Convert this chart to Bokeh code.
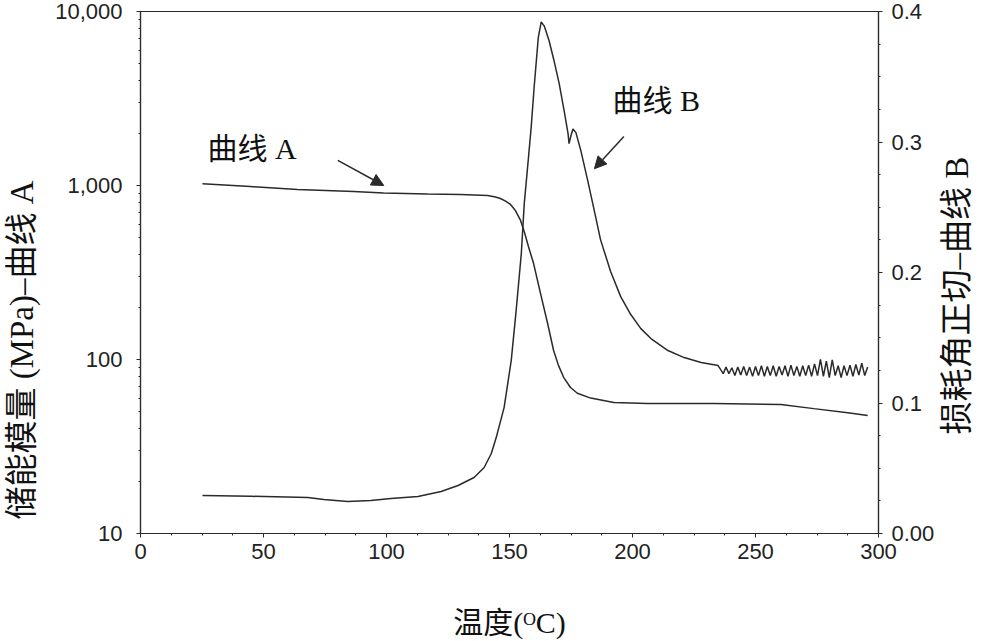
import math
from bokeh.plotting import figure
from bokeh.models import (LinearAxis, Range1d, FixedTicker, NumeralTickFormatter, LinearScale,
                          CustomJSTickFormatter, Label, Arrow, NormalHead)
from bokeh.embed import file_html
from bokeh.resources import INLINE

# ---- data ----
temp_a = [25.2, 44.7, 63.8, 86.6, 98.8, 116.7, 130.1, 141.1, 144.3, 146.3, 148.4,
          150.4, 152.4, 154.5, 156.1, 157.7, 159.8, 162.6, 165.5, 167.9, 169.9,
          172.0, 174.8, 177.6, 183.0, 192.4, 206.2, 233.0, 260.3, 273.7, 287.5, 295.6]
modulus_a = [1023, 986, 948, 924, 906, 894, 888, 877, 859, 842, 814,
             778, 718, 630, 537, 446, 356, 240, 161, 113, 92.5,
             79, 69, 64, 60, 56.6, 55.8, 55.8, 55.1, 52.2, 49.5, 47.6]

temp_b = [25.2, 45.0, 68.0, 74.5, 84.3, 93.6, 101.8, 112.8, 122.2, 129.1, 135.6,
          139.7, 142.6, 144.6, 147.8, 150.7, 152.7, 154.8, 156.0, 157.6, 158.8,
          160.0, 161.7, 162.9, 164.1, 166.1, 168.1, 170.2, 172.2, 173.8, 174.2,
          175.0, 175.8, 177.0, 179.0, 181.8, 184.2, 187.0, 191.1, 195.2, 199.3,
          203.4, 207.5, 214.4, 221.0, 227.9, 234.8, 236.9,
          238.0, 239.2, 240.4, 241.6, 242.8, 244.0, 245.2, 246.4, 247.6, 248.8,
          250.0, 251.2, 252.4, 253.6, 254.8, 256.0, 257.2, 258.4, 259.6, 260.8,
          262.0, 263.2, 264.4, 265.6, 266.8, 268.0, 269.2, 270.4, 271.6, 272.8,
          274.0, 275.2, 276.4, 277.6, 278.8, 280.0, 281.2, 282.4, 283.6, 284.8,
          286.0, 287.2, 288.4, 289.6, 290.8, 292.0, 293.2, 294.4, 295.6]
tan_b = [0.0291, 0.0285, 0.0276, 0.0260, 0.0245, 0.0253, 0.0268, 0.0283, 0.0322, 0.0368, 0.0429,
         0.0506, 0.0613, 0.0735, 0.0965, 0.1325, 0.1708, 0.2145, 0.2528, 0.2857, 0.3110,
         0.3416, 0.3800, 0.3920, 0.3890, 0.3776, 0.3623, 0.3447, 0.3240, 0.3064, 0.2987,
         0.3050, 0.3100, 0.3072, 0.2934, 0.2704, 0.2497, 0.2252, 0.2007, 0.1815, 0.1678,
         0.1570, 0.1494, 0.1402, 0.1348, 0.1310, 0.1287, 0.1225,
         0.1275, 0.1225, 0.1270, 0.1210, 0.1275, 0.1215, 0.1280, 0.1210, 0.1275, 0.1205,
         0.1280, 0.1210, 0.1285, 0.1205, 0.1280, 0.1210, 0.1285, 0.1205, 0.1280, 0.1215,
         0.1285, 0.1205, 0.1290, 0.1210, 0.1280, 0.1205, 0.1285, 0.1210, 0.1290, 0.1205,
         0.1300, 0.1210, 0.1335, 0.1205, 0.1320, 0.1195, 0.1330, 0.1210, 0.1285, 0.1195,
         0.1285, 0.1210, 0.1290, 0.1205, 0.1295, 0.1215, 0.1305, 0.1210, 0.1275]

x_ticks = [0, 50, 100, 150, 200, 250, 300]
x_minor = [12.5, 25, 37.5, 62.5, 75, 87.5, 112.5, 125, 137.5, 162.5, 175, 187.5,
           212.5, 225, 237.5, 262.5, 275, 287.5]
left_ticks = [10, 100, 1000, 10000]
right_ticks = [0.0, 0.1, 0.2, 0.3, 0.4]

left_title = "储能模量 (MPa)–曲线 A"
right_title = "损耗角正切–曲线 B"
bottom_title = "温度(ᴼC)"

# ---- figure ----
INK = "#2a2a2a"
FONT = "'Liberation Serif', 'Noto Sans CJK SC'"
EN, THIN = "\u2002", "\u2009"
p = figure(width=1000, height=641, x_range=Range1d(0, 300), y_range=Range1d(10, 10000),
           y_axis_type="log", output_backend="svg", toolbar_location=None,
           min_border_left=140, min_border_right=122, min_border_top=11, min_border_bottom=108)
p.extra_y_ranges = {"tan": Range1d(0, 0.4)}
p.extra_y_scales = {"tan": LinearScale()}
p.grid.visible = False
p.outline_line_color = INK
p.outline_line_width = 1.2
p.background_fill_color = "white"
p.border_fill_color = "white"

log_minor = [m * d for d in (10, 100, 1000) for m in range(2, 10)]
p.yaxis[0].ticker = FixedTicker(ticks=left_ticks, minor_ticks=log_minor)
p.yaxis[0].formatter = NumeralTickFormatter(format="0,0")
p.xaxis[0].ticker = FixedTicker(ticks=x_ticks, minor_ticks=x_minor)

right = LinearAxis(y_range_name="tan",
                   ticker=FixedTicker(ticks=right_ticks,
                                      minor_ticks=[0.025, 0.05, 0.075, 0.125, 0.15, 0.175,
                                                   0.225, 0.25, 0.275, 0.325, 0.35, 0.375]),
                   formatter=CustomJSTickFormatter(code="return tick == 0 ? '0.00' : tick.toFixed(1);"))
p.add_layout(right, "right")

for ax in (p.xaxis[0], p.yaxis[0], right):
    ax.axis_line_color = INK
    ax.axis_line_width = 1.2
    ax.major_tick_line_color = INK
    ax.minor_tick_line_color = INK
    ax.major_tick_in = 0
    ax.major_tick_out = 4
    ax.minor_tick_in = 0
    ax.minor_tick_out = 2
    ax.major_label_text_font = "Liberation Sans"
    ax.major_label_text_font_size = "22px"
    ax.major_label_text_color = "#222222"
    ax.axis_label_text_font = FONT
    ax.axis_label_text_font_style = "normal"
    ax.axis_label_text_font_size = "33px"
    ax.axis_label_text_color = "#111111"
p.yaxis[0].major_label_standoff = 14
right.major_label_standoff = 9
p.xaxis[0].major_label_standoff = 6

p.xaxis[0].axis_label = bottom_title
p.xaxis[0].axis_label_standoff = 44
p.xaxis[0].axis_label_text_font_size = "30px"

# trailing spaces move the visible left title down, as in the reference
p.yaxis[0].axis_label = left_title + EN * 9 + THIN
p.yaxis[0].axis_label_standoff = 12

# right title: reads bottom-to-top, starting ~100 px above the frame bottom
try:
    right.axis_label_align = "start"
    right.axis_label = EN * 6 + right_title
    right.axis_label_orientation = math.pi / 2
    right.axis_label_standoff = 20
except AttributeError:
    right.axis_label = EN * 2 + THIN + right_title
    right.axis_label_standoff = 21

# curves
p.line(temp_a, modulus_a, line_color=INK, line_width=1.5)
p.line(temp_b, tan_b, line_color=INK, line_width=1.5, y_range_name="tan")

# arrows and annotations
p.add_layout(Arrow(end=NormalHead(size=12, fill_color=INK, line_color=INK),
                   x_start=80.2, y_start=1393, x_end=98.9, y_end=1000,
                   line_color=INK, line_width=1.5))
p.add_layout(Arrow(end=NormalHead(size=12, fill_color=INK, line_color=INK),
                   x_start=196.5, y_start=0.3042, x_end=184.5, y_end=0.2795,
                   line_color=INK, line_width=1.5, y_range_name="tan"))

p.add_layout(Label(x=27.2, y=1633, text="曲线 A", text_font=FONT, text_font_size="30px",
                   text_baseline="middle", text_align="left", text_color="#111111"))
p.add_layout(Label(x=191.9, y=0.3317, y_range_name="tan", text="曲线 B", text_font=FONT,
                   text_font_size="30px", text_baseline="middle", text_align="left",
                   text_color="#111111"))

open("out.html", "w").write(file_html(p, INLINE))
